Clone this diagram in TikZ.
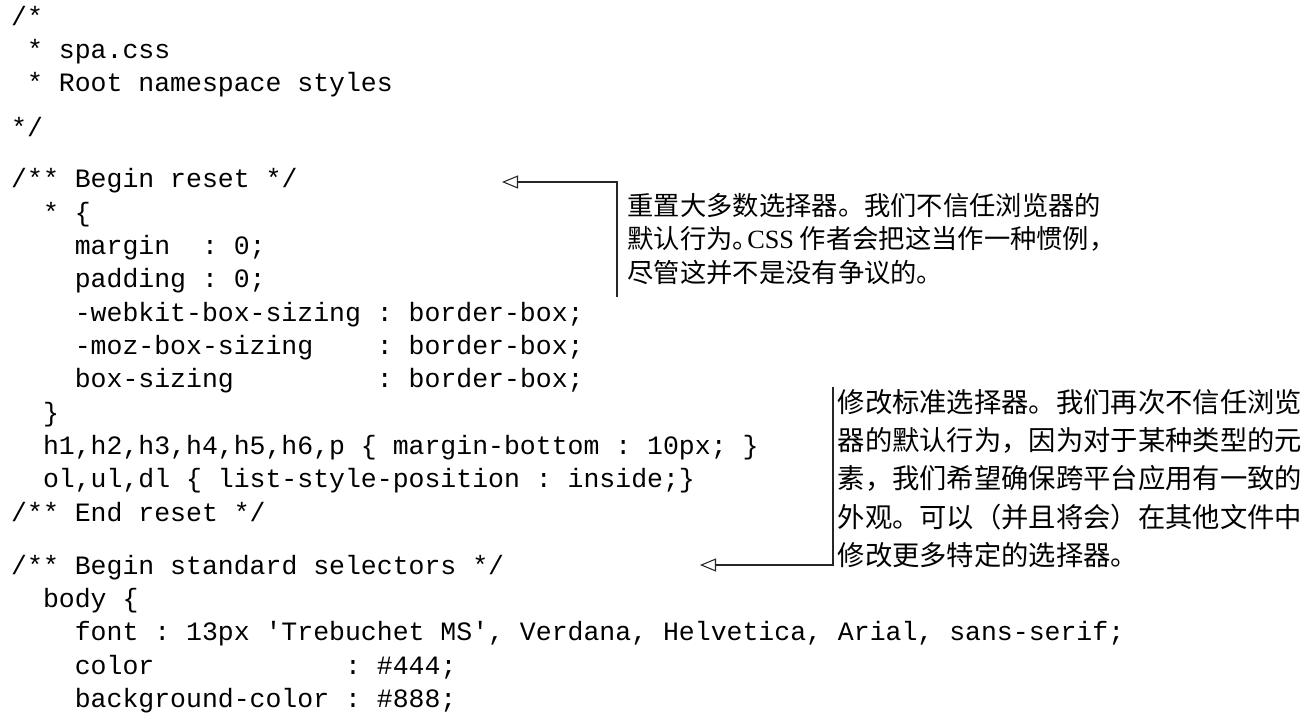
\documentclass[tikz,border=0pt]{standalone}
\usepackage{fontspec}
\setmainfont{Liberation Serif}
\setmonofont{Liberation Mono}
\newfontfamily\cjk{Noto Sans CJK SC}
\usetikzlibrary{arrows.meta}
\newcommand\codefont{\ttfamily\fontsize{7.54pt}{9pt}\selectfont\frenchspacing}
\newcommand\notefont{\cjk\fontsize{7.48pt}{9pt}\selectfont}
\newcommand\notefontb{\cjk\fontsize{7.77pt}{9pt}\selectfont}
\begin{document}
\begin{tikzpicture}[anchor=base west, inner sep=0pt,
  code/.style={font=\codefont},
  note/.style={font=\notefont},
  noteb/.style={font=\notefontb},
  pointer/.style={draw=black!85, line width=0.3pt, -{Triangle[open,length=1.6mm,width=1.3mm]}}]
\useasboundingbox (0,0) rectangle (13.12,7.26);
%header
\node[code] at (0.105,7.01) (c1) {/*};
\node[code] at (0.264,6.68) (c2) {* spa.css};
\node[code] at (0.264,6.35) (c3) {* Root namespace styles};
\node[code] at (0.105,5.90) (c4) {*/};
%reset
\node[code] at (0.105,5.39) (c5) {/** Begin reset */};
\node[code] at (0.423,5.05) (c6) {* \{};
\node[code] at (0.741,4.72) (c7) {margin~~: 0;};
\node[code] at (0.741,4.39) (c8) {padding : 0;};
\node[code] at (0.741,4.05) (c9) {-webkit-box-sizing : border-box;};
\node[code] at (0.741,3.72) (c10) {-moz-box-sizing~~~~: border-box;};
\node[code] at (0.741,3.39) (c11) {box-sizing~~~~~~~~~: border-box;};
\node[code] at (0.423,3.05) (c12) {\}};
\node[code] at (0.423,2.72) (c13) {h1,h2,h3,h4,h5,h6,p \{ margin-bottom : 10px; \}};
\node[code] at (0.423,2.39) (c14) {ol,ul,dl \{ list-style-position : inside;\}};
\node[code] at (0.105,2.05) (c15) {/** End reset */};
%standard selectors
\node[code] at (0.105,1.52) (c16) {/** Begin standard selectors */};
\node[code] at (0.423,1.19) (c17) {body \{};
\node[code] at (0.741,0.86) (c18) {font : 13px 'Trebuchet MS', Verdana, Helvetica, Arial, sans-serif;};
\node[code] at (0.741,0.52) (c19) {color~~~~~~~~~~~~: \#444;};
\node[code] at (0.741,0.19) (c20) {background-color : \#888;};
%note on reset
\node[note] at (6.27,5.11) (n1) {重置大多数选择器。我们不信任浏览器的};
\node[note] at (6.27,4.78) (n2) {默认行为。\kern-.45em{\rmfamily CSS} 作者会把这当作一种惯例，};
\node[note] at (6.27,4.44) (n3) {尽管这并不是没有争议的。};
\coordinate (resetbar) at (6.17,4.29);
\coordinate (resettip) at (5.02,5.44);
\draw[pointer] (resetbar) |- (resettip);
%note on standard selectors
\node[noteb] at (8.37,3.14) (m1) {修改标准选择器。我们再次不信任浏览};
\node[noteb] at (8.37,2.76) (m2) {器的默认行为，因为对于某种类型的元};
\node[noteb] at (8.37,2.38) (m3) {素，我们希望确保跨平台应用有一致的};
\node[noteb] at (8.37,1.99) (m4) {外观。可以（并且将会）在其他文件中};
\node[noteb] at (8.37,1.61) (m5) {修改更多特定的选择器。};
\coordinate (stdbar) at (8.33,3.39);
\coordinate (stdtip) at (7.00,1.61);
\draw[pointer] (stdbar) |- (stdtip);
\end{tikzpicture}
\end{document}
